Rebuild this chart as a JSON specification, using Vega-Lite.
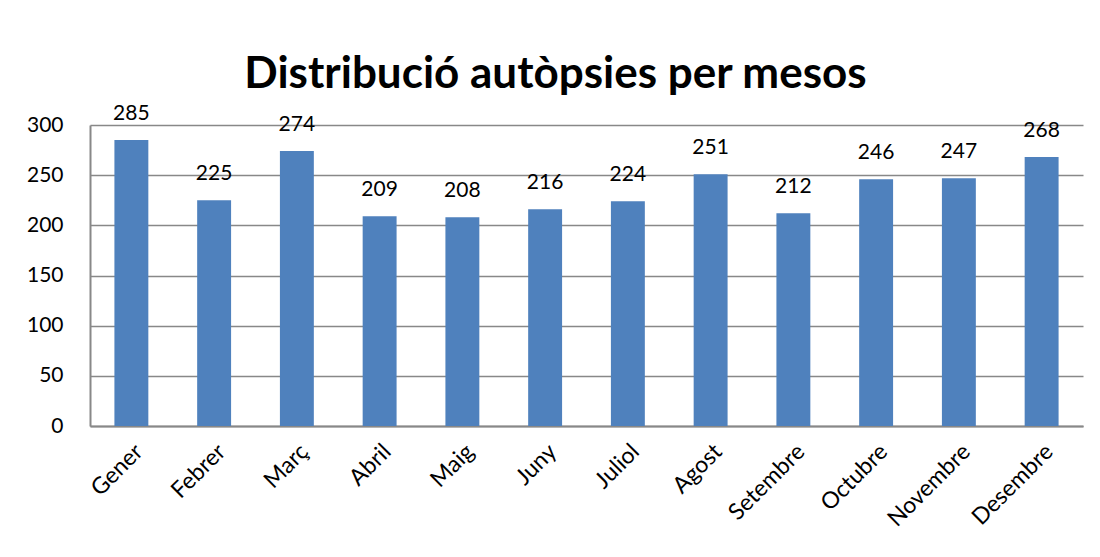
{
  "$schema": "https://vega.github.io/schema/vega-lite/v6.json",
  "autosize": {"type": "none"},
  "width": 993,
  "height": 301,
  "padding": {"left": 90, "top": 125, "right": 17, "bottom": 131},
  "background": "white",
  "title": {
    "text": "Distribució autòpsies per mesos",
    "font": "Lato",
    "fontSize": 44,
    "fontWeight": "bold",
    "color": "#000000",
    "anchor": "middle",
    "frame": "group",
    "dx": -31,
    "baseline": "alphabetic",
    "offset": -29
  },
  "config": {
    "view": {"stroke": null},
    "font": "Lato"
  },
  "data": {
    "values": [
      {"mes": "Gener", "n": 285},
      {"mes": "Febrer", "n": 225},
      {"mes": "Març", "n": 274},
      {"mes": "Abril", "n": 209},
      {"mes": "Maig", "n": 208},
      {"mes": "Juny", "n": 216},
      {"mes": "Juliol", "n": 224},
      {"mes": "Agost", "n": 251},
      {"mes": "Setembre", "n": 212},
      {"mes": "Octubre", "n": 246},
      {"mes": "Novembre", "n": 247},
      {"mes": "Desembre", "n": 268}
    ]
  },
  "encoding": {
    "x": {
      "field": "mes",
      "type": "nominal",
      "sort": null,
      "scale": {"paddingInner": 0.59, "paddingOuter": 0.295},
      "axis": {
        "title": null,
        "labelAngle": -45,
        "labelFont": "Lato",
        "labelFontSize": 23,
        "labelColor": "#000000",
        "labelPadding": 14,
        "ticks": false,
        "domainColor": "#888888",
        "domainWidth": 2,
        "grid": false
      }
    },
    "y": {
      "field": "n",
      "type": "quantitative",
      "scale": {"domain": [0, 300], "nice": false},
      "axis": {
        "title": null,
        "values": [0, 50, 100, 150, 200, 250, 300],
        "labelFont": "Lato",
        "labelFontSize": 21,
        "labelColor": "#000000",
        "labelPadding": 27,
        "ticks": false,
        "domainColor": "#888888",
        "domainWidth": 2,
        "gridColor": "#888888",
        "gridWidth": 1.5
      }
    }
  },
  "layer": [
    {"mark": {"type": "bar", "color": "#4F81BD"}},
    {
      "mark": {"type": "text", "font": "Lato", "fontSize": 21, "color": "#000000", "baseline": "alphabetic", "dy": -20},
      "encoding": {"text": {"field": "n", "type": "quantitative"}}
    }
  ]
}
